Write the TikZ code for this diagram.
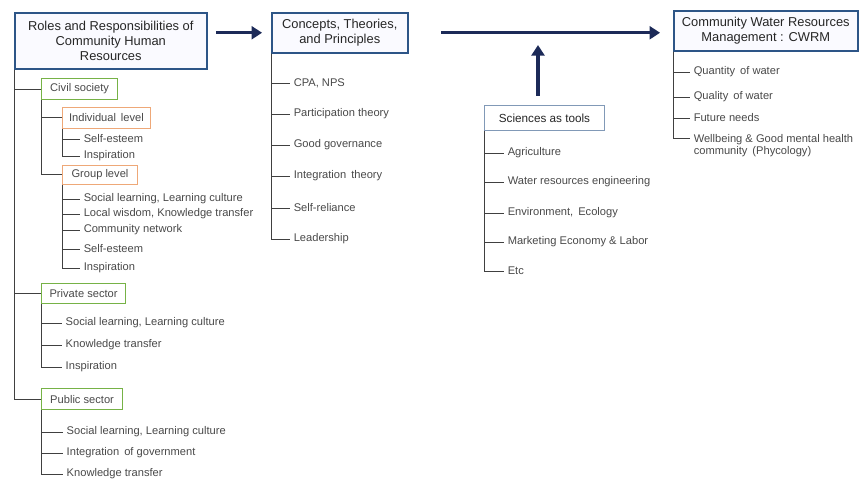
\documentclass[tikz,border=0pt]{standalone}
\usepackage{fontspec}
\setmainfont{Liberation Sans}
\usetikzlibrary{arrows.meta}

\definecolor{titleblue}{RGB}{45,85,135}
\definecolor{sectorgreen}{RGB}{118,178,70}
\definecolor{levelorange}{RGB}{238,168,120}
\definecolor{flownavy}{RGB}{28,42,88}
\definecolor{itemgrey}{RGB}{72,72,72}

\tikzset{
	titlebox/.style = {draw = titleblue, line width = 1.3pt, fill = blue!2, anchor = north west, align = center, font = \fontsize{11}{12.5}\selectfont, text = black!85, inner sep = 1pt},
	toolbox/.style = {titlebox, draw = titleblue!60, line width = 0.8pt, fill = white, font = \fontsize{10}{12}\selectfont},
	sectorbox/.style = {draw = sectorgreen, line width = 1pt, anchor = north west, font = \fontsize{9.5}{11}\selectfont, text = itemgrey, inner sep = 1pt},
	levelbox/.style = {sectorbox, draw = levelorange, line width = 0.8pt},
	item/.style = {anchor = west, font = \fontsize{9.5}{10.5}\selectfont, text = itemgrey, inner xsep = 3pt, inner ysep = 1pt, align = left},
	branch/.style = {line width = 0.8pt, black!75},
	flow/.style = {-{Triangle[length = 9pt, width = 11pt]}, line width = 2.8pt, flownavy}
}

\begin{document}
\begin{tikzpicture}[x = 0.03cm, y = -0.03cm]

	\useasboundingbox (0, 0) rectangle (859, 482);

	% Main boxes

	\node [titlebox, minimum width = 5.76cm, minimum height = 1.68cm] (roles) at (14, 12) {Roles and Responsibilities of\\Community Human\\Resources};
	\node [titlebox, minimum width = 4.08cm, minimum height = 1.2cm] (concepts) at (271, 12) {Concepts, Theories,\\and Principles};
	\node [titlebox, minimum width = 5.52cm, minimum height = 1.2cm] (cwrm) at (673, 10) {Community Water Resources\\Management : CWRM};
	\node [toolbox, minimum width = 3.6cm, minimum height = 0.75cm] (sciences) at (484, 105) {Sciences as tools};

	% Flow arrows

	\coordinate (join) at (538, 31);
	\draw [flow, shorten <= 7.6pt, shorten >= 7.6pt] (roles.east |- concepts.west) -- (concepts.west);
	\draw [flow, shorten <= 28pt, shorten >= 11pt] (concepts.east) -- (concepts.east -| cwrm.west);
	\draw [flow, shorten <= 8pt, shorten >= 12pt] (sciences.north -| join) -- (join);

	% Sectors

	\node [sectorbox, minimum width = 2.28cm, minimum height = 0.63cm] (civil) at (41, 78) {Civil society};
	\node [sectorbox, minimum width = 2.52cm, minimum height = 0.6cm] (private) at (41, 283) {Private sector};
	\node [sectorbox, minimum width = 2.43cm, minimum height = 0.63cm] (public) at (41, 388) {Public sector};

	\foreach \s in {civil, private, public}
		\draw [branch] (roles.south west) |- (\s.west);

	% Levels of civil society

	\node [levelbox, minimum width = 2.64cm, minimum height = 0.63cm] (individual) at (62, 107) {Individual\, level};
	\node [levelbox, minimum width = 2.25cm, minimum height = 0.57cm] (group) at (62, 165) {Group level};

	\draw [branch] (civil.south west) |- (individual.west);
	\draw [branch] (civil.south west) |- (group.west);

	\foreach \y / \t [count = \i] in {139 / Self-esteem, 156 / Inspiration} {
		\node [item] (ind\i) at (80, \y) {\t};
		\draw [branch] (individual.south west) |- (ind\i.west);
	}

	\foreach \y / \t [count = \i] in {199 / {Social learning, Learning culture}, 214 / {Local wisdom, Knowledge transfer}, 230 / Community network, 249 / Self-esteem, 268 / Inspiration} {
		\node [item] (grp\i) at (80, \y) {\t};
		\draw [branch] (group.south west) |- (grp\i.west);
	}

	% Private and public sector

	\foreach \y / \t [count = \i] in {323 / {Social learning, Learning culture}, 345 / Knowledge transfer, 367 / Inspiration} {
		\node [item] (prv\i) at (62, \y) {\t};
		\draw [branch] (private.south west) |- (prv\i.west);
	}

	\foreach \y / \t [count = \i] in {432 / {Social learning, Learning culture}, 453 / Integration\, of government, 474 / Knowledge transfer} {
		\node [item] (pub\i) at (63, \y) {\t};
		\draw [branch] (public.south west) |- (pub\i.west);
	}

	% Concepts, theories and principles

	\foreach \y / \t [count = \i] in {83 / {CPA, NPS}, 114 / Participation theory, 145 / Good governance, 176 / Integration\, theory, 208 / Self-reliance, 239 / Leadership} {
		\node [item] (ctp\i) at (290, \y) {\t};
		\draw [branch] (concepts.south west) |- (ctp\i.west);
	}

	% Sciences as tools

	\foreach \y / \t [count = \i] in {153 / Agriculture, 182 / Water resources engineering, 213 / {Environment,\, Ecology}, 242 / Marketing Economy \& Labor, 271 / Etc} {
		\node [item] (sci\i) at (504, \y) {\t};
		\draw [branch] (sciences.south west) |- (sci\i.west);
	}

	% CWRM outcomes

	\foreach \y / \t [count = \i] in {72 / Quantity\, of water, 97 / Quality\, of water, 118 / Future needs} {
		\node [item] (out\i) at (690, \y) {\t};
		\draw [branch] (cwrm.south west) |- (out\i.west);
	}
	\node [item, anchor = north west] (out4) at (690, 133) {Wellbeing \& Good mental health\\community\, (Phycology)};
	\draw [branch] (cwrm.south west) |- ([yshift = -4.5pt] out4.north west);

\end{tikzpicture}
\end{document}
